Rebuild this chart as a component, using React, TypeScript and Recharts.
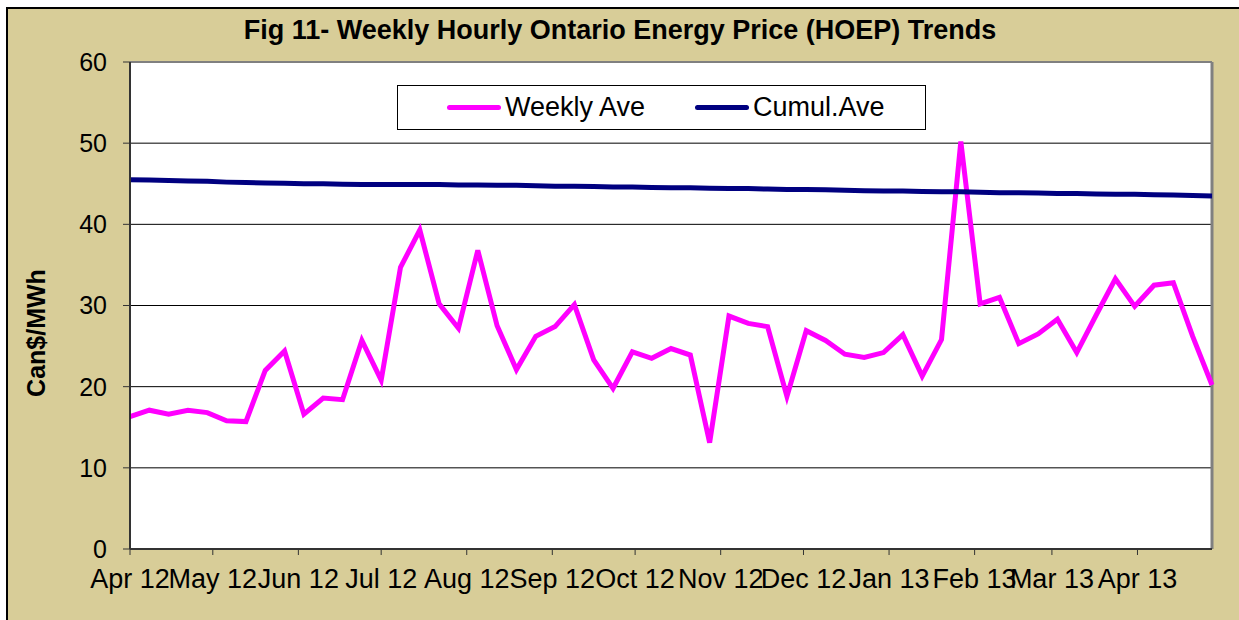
import { LineChart, Line, XAxis, YAxis, CartesianGrid, Legend, ReferenceLine } from 'recharts';

// weekly HOEP averages, Can$/MWh, one per week starting Apr 1 2012
const WEEKLY_AVE = [
    16.3, 17.1, 16.6, 17.1, 16.8, 15.8, 15.7, 22.0, 24.4, 16.6,
    18.6, 18.4, 25.7, 20.8, 34.7, 39.3, 30.2, 27.2, 36.8, 27.5,
    22.1, 26.2, 27.4, 30.1, 23.3, 19.8, 24.3, 23.5, 24.7, 23.9,
    13.1, 28.7, 27.8, 27.4, 18.8, 26.9, 25.7, 24.0, 23.6, 24.2,
    26.4, 21.3, 25.8, 50.2, 30.2, 31.0, 25.3, 26.5, 28.3, 24.2,
    28.8, 33.3, 29.9, 32.5, 32.8, 26.2, 20.2,
];

const CUMUL_AVE = [
    45.5, 45.45, 45.4, 45.35, 45.3, 45.2, 45.15, 45.1, 45.05, 45.0,
    45.0, 44.95, 44.9, 44.9, 44.9, 44.9, 44.9, 44.85, 44.85, 44.8,
    44.8, 44.75, 44.7, 44.7, 44.65, 44.6, 44.6, 44.55, 44.5, 44.5,
    44.45, 44.4, 44.4, 44.35, 44.3, 44.3, 44.25, 44.2, 44.15, 44.1,
    44.1, 44.05, 44.0, 44.0, 43.95, 43.9, 43.9, 43.85, 43.8, 43.8,
    43.75, 43.7, 43.7, 43.65, 43.6, 43.55, 43.5,
];

// days since Apr 1 2012 for each month start
const MONTH_TICK_DAYS = [0, 30, 61, 91, 122, 153, 183, 214, 244, 275, 306, 334, 365];
const MONTH_LABELS = ['Apr 12', 'May 12', 'Jun 12', 'Jul 12', 'Aug 12', 'Sep 12', 'Oct 12', 'Nov 12', 'Dec 12', 'Jan 13', 'Feb 13', 'Mar 13', 'Apr 13'];
const Y_TICKS = [0, 10, 20, 30, 40, 50, 60];

const SERIES = [
    { key: 'weekly', name: 'Weekly Ave', color: '#FF00FF' },
    { key: 'cumul', name: 'Cumul.Ave', color: '#000080' },
];

const data = WEEKLY_AVE.map((w, i) => ({ day: i * 7, weekly: w, cumul: CUMUL_AVE[i] }));
const LAST_DAY = data[data.length - 1].day;

const FONT = '"Liberation Sans", Arial, sans-serif';

function LegendBox() {
    return (
        <div style={{ width: 527, height: 43, border: '1px solid #000', background: '#fff', display: 'flex', alignItems: 'center', fontFamily: FONT, fontSize: 27, color: '#000' }}>
            {SERIES.map((s, i) => (
                <div key={s.key} style={{ display: 'flex', alignItems: 'center', marginLeft: i === 0 ? 49 : 50 }}>
                    <span style={{ display: 'inline-block', width: 54, height: 5, borderRadius: 3, background: s.color, marginRight: 4 }} />
                    <span>{s.name}</span>
                </div>
            ))}
        </div>
    );
}

export default function App() {
    return (
        <div style={{ position: 'absolute', left: 0, top: 0, width: 1239, height: 620, overflow: 'hidden', background: '#fff', fontFamily: FONT }}>
            <div style={{ position: 'absolute', left: 6, top: 7, width: 1300, height: 700, border: '2px solid #000', background: '#D8CD98' }} />
            <div style={{ position: 'absolute', left: 0, top: 0 }}>
                <LineChart width={1239} height={620} data={data} margin={{ top: 62, right: 27, bottom: 21, left: 8 }}>
                    <CartesianGrid vertical={false} stroke="#000" fill="#fff" fillOpacity={1} />
                    <XAxis
                        type="number"
                        dataKey="day"
                        domain={[0, LAST_DAY]}
                        ticks={MONTH_TICK_DAYS}
                        interval={0}
                        tickFormatter={(v: number) => MONTH_LABELS[MONTH_TICK_DAYS.indexOf(v)] ?? ''}
                        height={50}
                        tickSize={6}
                        tickMargin={14}
                        axisLine={{ stroke: '#333', strokeWidth: 2 }}
                        tickLine={{ stroke: '#333' }}
                        tick={{ fontSize: 27, fill: '#000' }}
                    />
                    <YAxis
                        domain={[0, 60]}
                        ticks={Y_TICKS}
                        interval={0}
                        width={122}
                        tickSize={7}
                        tickMargin={16}
                        axisLine={{ stroke: '#333', strokeWidth: 2 }}
                        tickLine={{ stroke: '#333' }}
                        tick={{ fontSize: 25, fill: '#000' }}
                    />
                    <ReferenceLine y={60} stroke="#808080" strokeWidth={2} />
                    <ReferenceLine x={LAST_DAY} stroke="#808080" strokeWidth={3} />
                    {SERIES.map(s => (
                        <Line
                            key={s.key}
                            type="linear"
                            dataKey={s.key}
                            name={s.name}
                            stroke={s.color}
                            strokeWidth={5}
                            dot={false}
                            isAnimationActive={false}
                        />
                    ))}
                    <Legend
                        verticalAlign="middle"
                        align="center"
                        layout="horizontal"
                        wrapperStyle={{ position: 'absolute', left: 397, top: 85, width: 529, height: 45 }}
                        content={() => <LegendBox />}
                    />
                    <text x={620} y={39} textAnchor="middle" fontSize={27} fontWeight="bold" fill="#000" fontFamily={FONT}>
                        Fig 11- Weekly Hourly Ontario Energy Price (HOEP) Trends
                    </text>
                    <text x={45} y={333} textAnchor="middle" fontSize={25} fontWeight="bold" fill="#000" fontFamily={FONT} transform="rotate(-90, 45, 333)">
                        Can$/MWh
                    </text>
                </LineChart>
            </div>
        </div>
    );
}
